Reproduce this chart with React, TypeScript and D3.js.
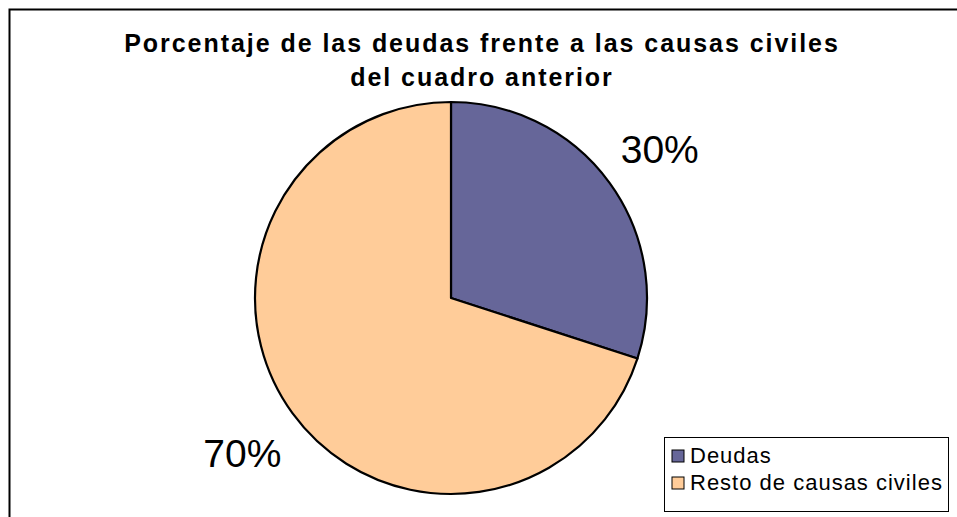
import * as d3 from 'd3';

const categories = ['Deudas', 'Resto de causas civiles'];
const values = [30, 70];
const labels = ['30%', '70%'];
const COLORS = ['#666699', '#FFCC99'];
const titleLines = ['Porcentaje de las deudas frente a las causas civiles', 'del cuadro anterior'];

export default function App() {
  const width = 957;
  const height = 517;
  const cx = 451;
  const cy = 298;
  const radius = 196;

  const data = categories.map((c, i) => ({ category: c, value: values[i], label: labels[i] }));
  const pie = d3.pie<any>().value((d) => d.value).sort(null);
  const arc = d3.arc<any>().innerRadius(0).outerRadius(radius);
  const labelArc = d3.arc<any>().innerRadius(258).outerRadius(258);
  const arcs = pie(data);

  // legend box, anchored at its right edge
  const legendRight = 948;
  const legendWidth = 284;

  return (
    <svg
      width={width}
      height={height}
      style={{ position: 'fixed', left: 0, top: 0, background: '#fff' }}
      fontFamily="'Liberation Sans', Arial, sans-serif"
    >
      <rect x={9.5} y={9.5} width={960} height={520} fill="#fff" stroke="#000" strokeWidth={2} />

      <g textAnchor="middle" fontWeight="bold" fontSize="25" letterSpacing="1.95" fill="#000">
        {titleLines.map((t, i) => (
          <text key={t} x={482} y={52 + i * 34}>{t}</text>
        ))}
      </g>

      <g transform={`translate(${cx},${cy})`}>
        {arcs.map((slice, i) => (
          <path key={slice.data.category} d={arc(slice) ?? ''} fill={COLORS[i]} stroke="#000" strokeWidth={2.2} strokeLinejoin="round" />
        ))}
        {arcs.map((slice) => {
          const [x, y] = labelArc.centroid(slice);
          return (
            <text key={slice.data.category + '-l'} x={x} y={y + 17} textAnchor="middle" fontSize="39" fill="#000">
              {slice.data.label}
            </text>
          );
        })}
      </g>

      <g transform={`translate(${legendRight - legendWidth},437)`}>
        <rect x={0.5} y={0.5} width={legendWidth} height={74} fill="#fff" stroke="#000" strokeWidth={1} />
        {data.map((d, i) => (
          <g key={d.category} transform={`translate(8, ${26 + i * 27})`}>
            <rect x={0} y={-13} width={12} height={12} fill={COLORS[i]} stroke="#000" strokeWidth={1} />
            <text x={18} y={0} fontSize="22" letterSpacing="1" fill="#000">{d.category}</text>
          </g>
        ))}
      </g>
    </svg>
  );
}
